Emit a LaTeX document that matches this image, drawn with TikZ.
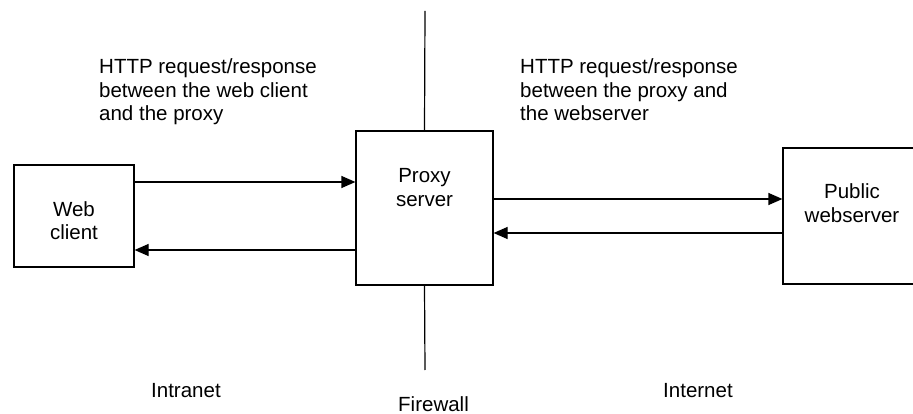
\documentclass[tikz,border=0pt]{standalone}
\usepackage{fontspec}
\setmainfont{Liberation Sans}
\usetikzlibrary{arrows.meta}
\begin{document}
\begin{tikzpicture}[x=1pt,y=-1pt,
  box/.style={draw, line width=1.2pt, inner sep=0pt},
  arr/.style={line width=1.2pt, -{Triangle[length=14pt,width=12pt]}},
  wall/.style={line width=1.2pt},
  txt/.style={inner sep=0pt, font=\fontsize{20.5}{23.5}\selectfont},
  ]
\useasboundingbox (0,0) rectangle (913,414);
\clip (0,0) rectangle (913,414);

% boxes
\node[box, minimum width=120pt, minimum height=102pt] (web) at (74,216) {};
\node[box, minimum width=137pt, minimum height=154pt] (proxy) at (424.5,208) {};
\node[box, minimum width=138pt, minimum height=136pt] (pub) at (852,216) {};

% box labels
\node[txt, anchor=base] (web1) at (74,217) {Web};
\node[txt, anchor=base] (web2) at (74,240) {client};
\node[txt, anchor=base] (px1) at (424.5,183) {Proxy};
\node[txt, anchor=base] (px2) at (424.5,206.5) {server};
\node[txt, anchor=base] (pb1) at (852,199) {Public};
\node[txt, anchor=base] (pb2) at (852,222.5) {webserver};

% firewall
\coordinate (fwtop) at (425,11);
\coordinate (fwbot) at (425,370);
\draw[wall] (fwtop) -- (proxy.north);
\draw[wall] (proxy.south) -- (fwbot);

% message arrows
\draw[arr] (web.east |- 0,182) -- (proxy.west |- 0,182);
\draw[arr] (proxy.west |- 0,250) -- (web.east |- 0,250);
\draw[arr] (proxy.east |- 0,199) -- (pub.west |- 0,199);
\draw[arr] (pub.west |- 0,233) -- (proxy.east |- 0,233);

% captions
\node[txt, anchor=base west] (ca1) at (99,74) {HTTP request/response};
\node[txt, anchor=base west] (ca2) at (99,97.5) {between the web client};
\node[txt, anchor=base west] (ca3) at (99,121) {and the proxy};
\node[txt, anchor=base west] (cb1) at (520,74) {HTTP request/response};
\node[txt, anchor=base west] (cb2) at (520,97.5) {between the proxy and};
\node[txt, anchor=base west] (cb3) at (520,121) {the webserver};

\node[txt, anchor=base west] (intra) at (151,397) {Intranet};
\node[txt, anchor=base west] (inter) at (663,397) {Internet};
\node[txt, anchor=base west] (fw) at (398,411) {Firewall};
\end{tikzpicture}
\end{document}
